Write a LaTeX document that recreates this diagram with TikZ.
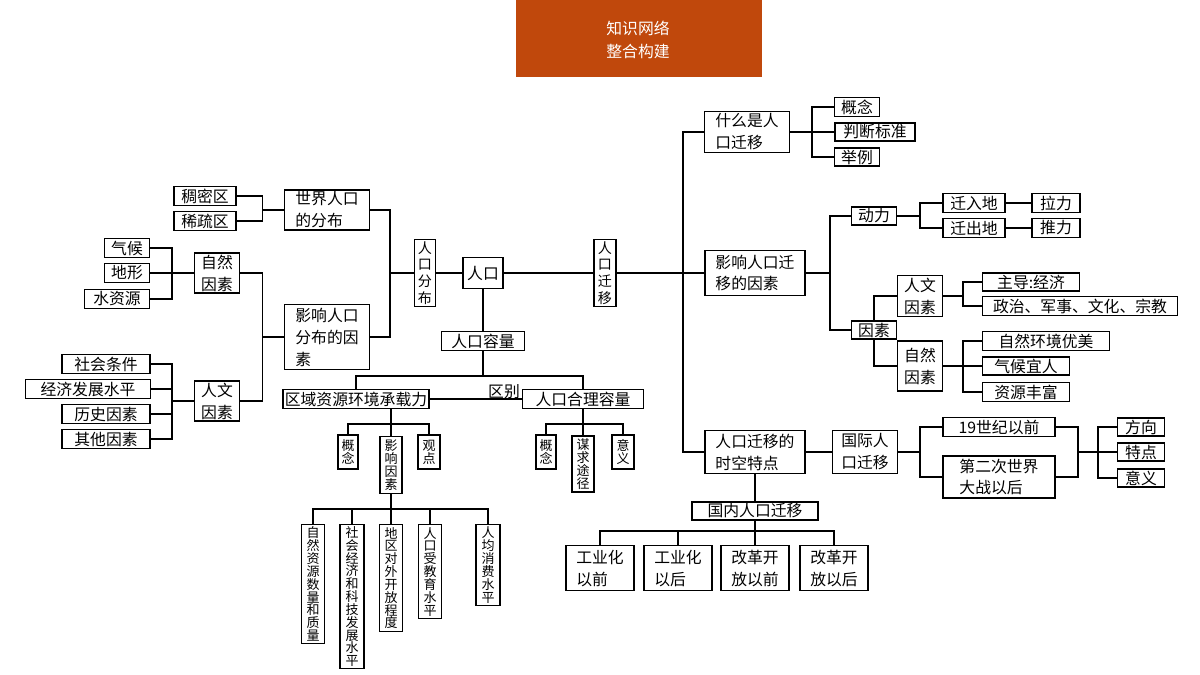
\documentclass[tikz,border=0pt]{standalone}
\usepackage{fontspec}
\newfontfamily\cjk{Noto Sans CJK SC}
\usetikzlibrary{positioning}

\begin{document}
\begin{tikzpicture}[x=0.02cm,y=-0.02cm,
    box/.style={draw,line width=0.7pt,inner sep=1pt,align=left,
        font={\cjk\fontsize{9}{12.5}\selectfont}},
    vbox/.style={box,align=center,inner ysep=0.5pt,font={\cjk\fontsize{7.4}{7.3}\selectfont}},
    sz/.style 2 args={minimum width=#1*0.02cm,minimum height=#2*0.02cm},
    link/.style={line width=0.7pt}]
\useasboundingbox (0,0) rectangle (1200,675);
\fill[fill={rgb,255:red,192;green,72;blue,12}] (516,0) rectangle (762,77);
\node[white,align=center,font={\cjk\fontsize{9}{13}\selectfont}] (title) at (638,40) {知识网络\\整合构建};

% left part
\node[box,sz={62}{19}] (choumi) at (205,196) {稠密区};
\node[box,sz={62}{19}] (xishu) at (205,221) {稀疏区};
\node[box,sz={85}{40}] (shijie) at (327,210) {世界人口\\的分布};
\node[box,sz={45}{19}] (qihou) at (127,248) {气候};
\node[box,sz={45}{19}] (dixing) at (127,273) {地形};
\node[box,sz={65}{19}] (shui) at (117,299) {水资源};
\node[box,sz={45}{40}] (ziran) at (217,273) {自然\\因素};
\node[box,sz={85}{65}] (yingxiang) at (327,337) {影响人口\\分布的因\\素};
\node[box,sz={88}{19}] (shehui) at (106,364) {社会条件};
\node[box,sz={125}{19}] (jingji) at (88,389) {经济发展水平};
\node[box,sz={88}{19}] (lishi) at (106,414) {历史因素};
\node[box,sz={88}{19}] (qita) at (106,439) {其他因素};
\node[box,sz={45}{40}] (renwen) at (217,401) {人文\\因素};
\node[box,align=center,sz={21}{55},font={\cjk\fontsize{8}{9.5}\selectfont}] (fenbu) at (425,273) {人\\口\\分\\布};
\node[box,sz={40}{31},align=center] (renkou) at (483,273) {人口};
\node[box,align=center,sz={22}{55},font={\cjk\fontsize{8}{9.5}\selectfont}] (qianyi) at (605,273) {人\\口\\迁\\移};

\draw[link] (choumi.east) -- ++(26,0) |- (xishu.east);
\draw[link] (shijie.west) -- (262,210);
\draw[link] (ziran.east) -- ++(22,0) |- (renwen.east);
\draw[link] (yingxiang.west) -- (262,337);
\draw[link] (qihou.east) -- (172,248) |- (shui.east);
\draw[link] (dixing.east) -- (ziran.west);
\draw[link] (shehui.east) -- (172,364) |- (qita.east);
\draw[link] (jingji.east) -- (172,389);
\draw[link] (lishi.east) -- (172,414);
\draw[link] (172,401) -- (renwen.west);
\draw[link] (shijie.east) -- (390,210) |- (yingxiang.east);
\draw[link] (390,273) -- (fenbu.west);
\draw[link] (fenbu.east) -- (renkou.west);
\draw[link] (renkou.east) -- (qianyi.west);

% population capacity
\node[box,sz={83}{19},align=center] (rongliang) at (483,341) {人口容量};
\node[box,sz={112}{19}] (chengzai) at (356,399) {区域资源环境承载力};
\node[box,sz={121}{19}] (heli) at (583,399) {人口合理容量};
\node[font={\cjk\fontsize{9}{10}\selectfont}] (qubie) at (504,392) {区别};
\draw[link] (renkou.south) -- (rongliang.north);
\draw[link] (rongliang.south) -- (483,376);
\draw[link] (chengzai.north) -- (356,376) -| (heli.north);
\draw[link] (chengzai.east) -- (heli.west);

\node[vbox,sz={20}{34}] (gn1) at (348,452) {概\\念};
\node[vbox,sz={22}{57}] (yxys) at (391,465) {影\\响\\因\\素};
\node[vbox,sz={22}{34}] (guandian) at (429,452) {观\\点};
\node[vbox,sz={20}{34}] (gn2) at (546,452) {概\\念};
\node[vbox,sz={22}{56}] (mouqiu) at (583,464) {谋\\求\\途\\径};
\node[vbox,sz={22}{34}] (yiyi1) at (623,452) {意\\义};
\draw[link] (yxys.north) -- (yxys.north|-chengzai.south);
\draw[link] (gn1.north) |- (391,424) -| (guandian.north);
\draw[link] (heli.south) -- (mouqiu.north);
\draw[link] (gn2.north) |- (583,424) -| (yiyi1.north);

\node[vbox,sz={23}{119},anchor=north] (zrzy) at (313,524) {自\\然\\资\\源\\数\\量\\和\\质\\量};
\node[vbox,sz={24}{144},anchor=north] (shjj) at (352,524) {社\\会\\经\\济\\和\\科\\技\\发\\展\\水\\平};
\node[vbox,sz={23}{107},anchor=north] (dqdw) at (391,524) {地\\区\\对\\外\\开\\放\\程\\度};
\node[vbox,sz={23}{94},anchor=north] (rksj) at (430,524) {人\\口\\受\\教\\育\\水\\平};
\node[vbox,sz={24}{81},anchor=north] (rjxf) at (488,524) {人\\均\\消\\费\\水\\平};
\draw[link] (yxys.south) -- (dqdw.north);
\draw[link] (zrzy.north) |- (391,509) -| (rjxf.north);
\draw[link] (shjj.north) -- (352,509);
\draw[link] (rksj.north) -- (430,509);

% right part
\node[box,sz={85}{41}] (shenme) at (747,132) {什么是人\\口迁移};
\node[box,sz={45}{18}] (gn3) at (857,107) {概念};
\node[box,sz={80}{18}] (panduan) at (875,132) {判断标准};
\node[box,sz={45}{18}] (juli) at (857,157) {举例};
\draw[link] (gn3.west) -- (812,107) |- (juli.west);
\draw[link] (shenme.east) -- (panduan.west);

\node[box,sz={100}{45}] (yxqy) at (755,273) {影响人口迁\\移的因素};
\node[box,sz={45}{18}] (dongli) at (874,216) {动力};
\node[box,sz={62}{19}] (qianru) at (974,203) {迁入地};
\node[box,sz={48}{19}] (lali) at (1056,203) {拉力};
\node[box,sz={62}{19}] (qianchu) at (974,228) {迁出地};
\node[box,sz={48}{19}] (tuili) at (1056,228) {推力};
\node[box,sz={45}{18}] (yinsu) at (874,330) {因素};
\node[box,sz={45}{41}] (rwys) at (920,296) {人文\\因素};
\node[box,sz={97}{18}] (zhudao) at (1031,282) {主导:经济};
\node[box,sz={195}{19}] (zhengzhi) at (1080,306) {政治、军事、文化、宗教};
\node[box,sz={45}{50}] (zrys) at (920,366) {自然\\因素};
\node[box,sz={127}{18}] (youmei) at (1046,341) {自然环境优美};
\node[box,sz={87}{18}] (yiren) at (1026,366) {气候宜人};
\node[box,sz={87}{18}] (fengfu) at (1026,392) {资源丰富};
\draw[link] (yxqy.east) -- (830,273);
\draw[link] (dongli.west) -- (830,216) |- (yinsu.west);
\draw[link] (qianru.west) -- (920,203) |- (qianchu.west);
\draw[link] (dongli.east) -- (920,216);
\draw[link] (qianru.east) -- (lali.west);
\draw[link] (qianchu.east) -- (tuili.west);
\draw[link] (yinsu.north) |- (rwys.west);
\draw[link] (yinsu.south) |- (zrys.west);
\draw[link] (zhudao.west) -- (963,282) |- (zhengzhi.west);
\draw[link] (rwys.east) -- (963,296);
\draw[link] (youmei.west) -- (963,341) |- (fengfu.west);
\draw[link] (zrys.east) -- (yiren.west);

\node[box,sz={100}{43}] (shikong) at (755,452) {人口迁移的\\时空特点};
\node[box,sz={65}{43}] (guoji) at (865,452) {国际人\\口迁移};
\node[box,sz={112}{18}] (shiji) at (999,427) {19世纪以前};
\node[box,sz={112}{42}] (erzhan) at (999,477) {第二次世界\\大战以后};
\node[box,sz={47}{18}] (fangxiang) at (1141,427) {方向};
\node[box,sz={47}{18}] (tedian) at (1141,452) {特点};
\node[box,sz={47}{18}] (yiyi2) at (1141,478) {意义};
\draw[link] (shikong.east) -- (guoji.west);
\draw[link] (guoji.east) -- (920,452);
\draw[link] (shiji.west) -- (920,427) |- (erzhan.west);
\draw[link] (shiji.east) -- (1078,427) |- (erzhan.east);
\draw[link] (1078,452) -- (tedian.west);
\draw[link] (fangxiang.west) -- (1098,427) |- (yiyi2.west);

\draw[link] (shenme.west) -- (683,132) |- (shikong.west);
\draw[link] (qianyi.east) -- (yxqy.west);

\node[box,sz={126}{18},align=center] (guonei) at (755,511) {国内人口迁移};
\node[box,sz={68}{45},anchor=north] (gy1) at (600,545) {工业化\\以前};
\node[box,sz={68}{45},anchor=north] (gy2) at (678,545) {工业化\\以后};
\node[box,sz={68}{45},anchor=north] (gg1) at (755,545) {改革开\\放以前};
\node[box,sz={68}{45},anchor=north] (gg2) at (834,545) {改革开\\放以后};
\draw[link] (shikong.south) -- (guonei.north);
\draw[link] (guonei.south) -- (gg1.north);
\draw[link] (gy1.north) |- (755,531) -| (gg2.north);
\draw[link] (gy2.north) -- (678,531);
\end{tikzpicture}
\end{document}
